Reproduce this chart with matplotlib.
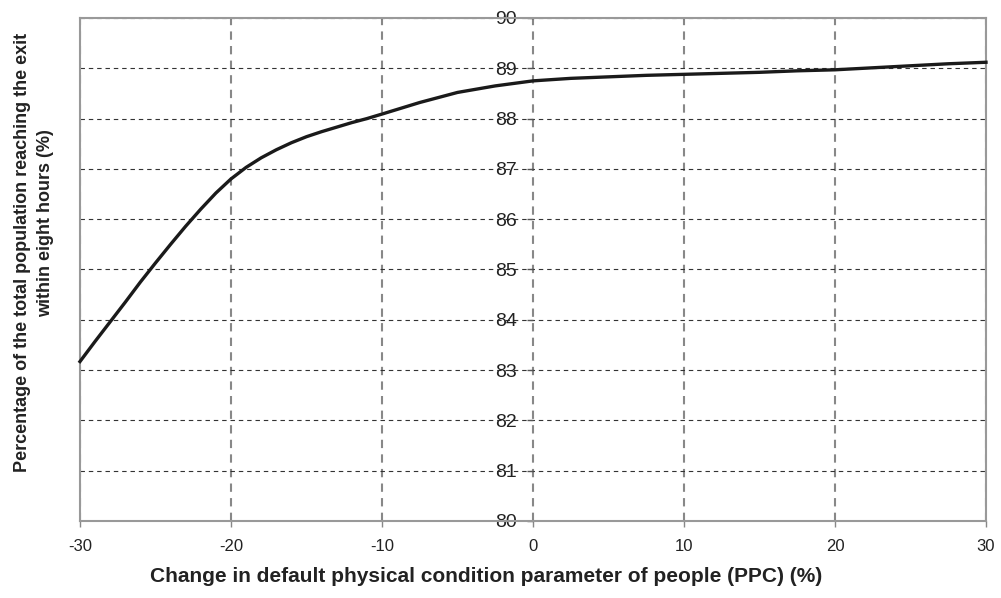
import matplotlib.pyplot as plt

# ---- Data -------------------------------------------------------------------
ppc_change = [-30, -29, -28, -27, -26, -25, -24, -23, -22, -21, -20, -19, -18, -17,
              -16, -15, -14, -13, -12, -11, -10, -7.5, -5, -2.5,
              0, 2.5, 5, 7.5, 10, 12.5, 15, 17.5, 20, 22.5, 25, 27.5, 30]
pct_reached = [83.17, 83.57, 83.96, 84.35, 84.75, 85.13, 85.50, 85.86, 86.20, 86.52,
               86.80, 87.03, 87.22, 87.38, 87.52, 87.64, 87.74, 87.83, 87.92, 88.00,
               88.09, 88.32, 88.52, 88.65,
               88.75, 88.80, 88.83, 88.86, 88.88, 88.90, 88.92, 88.95,
               88.97, 89.01, 89.05, 89.09, 89.12]
x_ticks = [-30, -20, -10, 0, 10, 20, 30]
y_ticks = list(range(80, 91))

plt.rcParams["font.family"] = ["Liberation Sans", "DejaVu Sans"]
plt.rcParams["axes.unicode_minus"] = False

fig = plt.figure(figsize=(10.01, 5.98), dpi=100)
ax = fig.add_axes([0.0799, 0.1288, 0.9051, 0.8411])

ax.set_xlim(-30, 30)
ax.set_ylim(80, 90)
ax.set_xticks(x_ticks)
ax.set_yticks(y_ticks)

# grid: dark dashed horizontals, grey dashed verticals
ax.yaxis.grid(True, color="#333333", linestyle=(0, (4, 3.5)), linewidth=0.8)
ax.xaxis.grid(True, color="#888888", linestyle=(0, (4, 3)), linewidth=1.5)
ax.set_axisbelow(True)

# border in grey; y axis sits at x = 0
for side in ["top", "right", "bottom"]:
    ax.spines[side].set_color("#999999")
    ax.spines[side].set_linewidth(1.5)
ax.spines["left"].set_position(("data", 0))
ax.spines["left"].set_color("none")
ax.axvline(-30, color="#999999", linewidth=1.5, clip_on=False, zorder=1)

ax.plot(ppc_change, pct_reached, color="#1a1a1a", linewidth=2.4, zorder=3,
        clip_on=False, solid_joinstyle="round")

ax.tick_params(axis="y", direction="out", length=4, width=1, color="#555555",
               pad=7.5, labelsize=14, labelcolor="#222222")
ax.tick_params(axis="x", direction="out", length=4, width=1, color="#888888",
               pad=9, labelsize=12, labelcolor="#222222")

ax.set_xlabel("Change in default physical condition parameter of people (PPC) (%)",
              fontsize=15, fontweight="bold", color="#222222")
ax.xaxis.set_label_coords((486 - 80) / 906, -(577 - 521) / 503)
ax.xaxis.label.set_va("center")
fig.text(0.022, 1 - 252 / 598, "Percentage of the total population reaching the exit",
         rotation=90, ha="center", va="center", fontsize=13, fontweight="bold",
         color="#222222")
fig.text(0.046, 1 - 223 / 598, "within eight hours (%)",
         rotation=90, ha="center", va="center", fontsize=13, fontweight="bold",
         color="#222222")

fig.savefig("out.png", dpi=100, facecolor="white")
